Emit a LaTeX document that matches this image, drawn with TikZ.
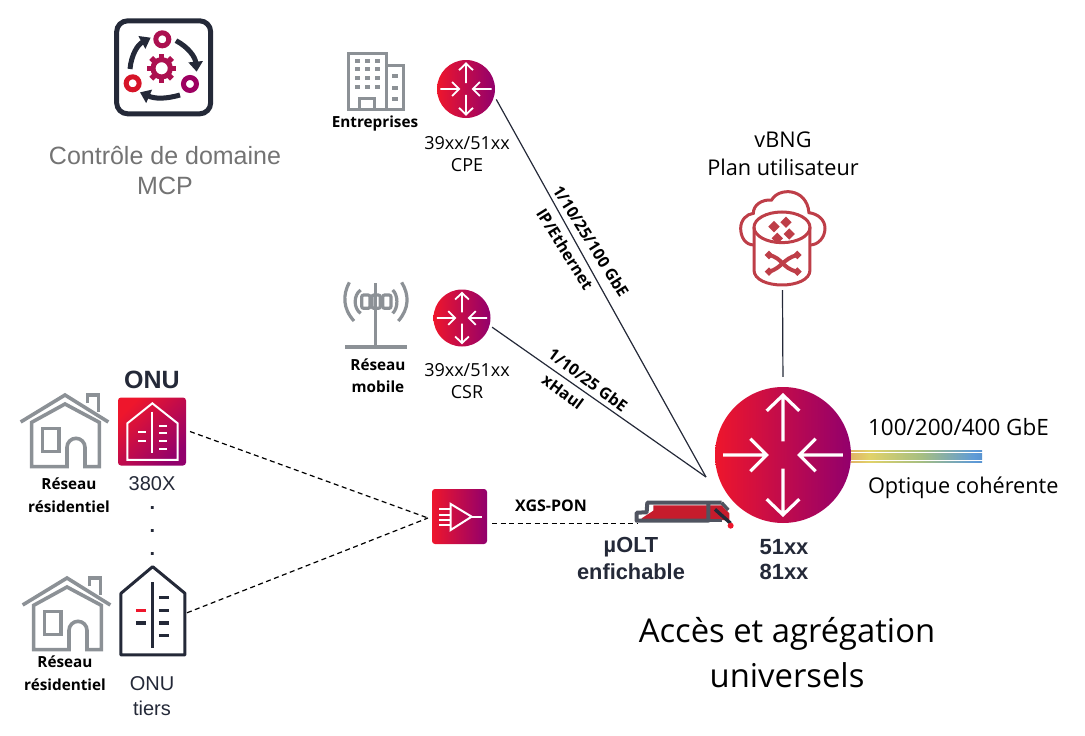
\documentclass[tikz,border=0pt]{standalone}
\usepackage{fontspec}
\setmainfont{Open Sans}
\newfontfamily\arialfont{Liberation Sans}
\usetikzlibrary{positioning,arrows.meta}
\definecolor{accentred}{RGB}{238,22,44}
\definecolor{accentpurple}{RGB}{146,0,108}
\definecolor{darkslate}{RGB}{36,41,56}
\definecolor{icongray}{RGB}{140,145,150}
\definecolor{cloudred}{RGB}{190,62,72}
\definecolor{oltred}{RGB}{198,28,44}
\definecolor{gearred}{RGB}{172,16,80}
\definecolor{fibreA}{RGB}{175,110,105}
\definecolor{fibreB}{RGB}{225,150,100}
\definecolor{fibreC}{RGB}{225,210,105}
\definecolor{fibreD}{RGB}{165,190,130}
\definecolor{fibreE}{RGB}{95,155,215}
\definecolor{fibreF}{RGB}{40,90,160}
\pgfdeclarehorizontalshading{fiberspec}{100bp}{color(0bp)=(fibreA); color(18bp)=(fibreB); color(32bp)=(fibreC); color(52bp)=(fibreD); color(72bp)=(fibreE); color(100bp)=(fibreF)}

% arrows of a router: centre, radius, line width
\newcommand{\routerarrows}[3]{%
  \begin{scope}[shift={(#1)},x=#2pt,y=#2pt,white,line width=#3pt]
    \foreach \ang in {90,270} \draw[rotate=\ang] (.2,0) -- (.88,0) (.65,.24) -- (.88,0) -- (.65,-.24);
    \foreach \ang in {0,180} \draw[rotate=\ang] (.88,0) -- (.24,0) (.48,.24) -- (.24,0) -- (.48,-.24);
  \end{scope}}
% residential house
\newcommand{\homeicon}[1]{%
  \begin{scope}[zoomed={#1},icongray,line width=3.6pt]
    \draw (32,186) -- (165,105) -- (295,186);
    \draw (65,320) -- (65,187) -- (165,132) -- (268,187) -- (268,320) -- (225,320) -- (225,262)
          arc[start angle=0,end angle=180,x radius=27,y radius=-27] -- (171,320) -- cycle;
    \draw (97,205) rectangle (147,275);
    \draw (232,130) -- (232,105) -- (265,105) -- (265,155);
  \end{scope}}

\begin{document}
\begin{tikzpicture}[x=1pt,y=-1pt,
    zoomed/.style={shift={(#1)},x=0.3333pt,y=-0.3333pt},
    router/.style={circle, left color=accentred, right color=accentpurple, inner sep=0pt},
    redsquare/.style={rectangle, rounded corners=3pt, left color=accentred, right color=accentpurple, inner sep=0pt},
    iconbox/.style={rectangle, inner sep=0pt},
    link/.style={line width=1.2pt, darkslate},
    ponlink/.style={line width=1.2pt, black, dash pattern=on 5pt off 3.5pt},
    smalllabel/.style={align=center, font=\fontsize{15.3}{22.5}\selectfont\bfseries},
    linklabel/.style={font=\fontsize{16}{18}\selectfont\bfseries},
    partlabel/.style={align=center, font=\fontsize{18}{22}\selectfont},
    arialbig/.style={align=center, text=darkslate, font=\arialfont\fontsize{20}{25}\selectfont},
    arialbold/.style={align=center, text=darkslate, font=\arialfont\fontsize{21.8}{27}\selectfont\bfseries},
    iconline/.style={white, line width=2pt}
]
\useasboundingbox (0,0) rectangle (1085,736);

% routers
\node[router, minimum size=136pt] (hub) at (783,455) {};
\node[router, minimum size=58pt, outer sep=3pt] (cpe) at (466,89) {};
\node[router, minimum size=57pt, outer sep=3pt] (csr) at (462,318) {};
\routerarrows{hub}{68}{3.2}
\routerarrows{cpe}{29}{1.8}
\routerarrows{csr}{28.5}{1.8}

% domain control
\begin{scope}[zoomed={90,0}]
  \node[iconbox, draw=darkslate, line width=5pt, rounded corners=11pt, minimum width=94pt, minimum height=93pt] (mcp) at (221,202) {};
  \draw[gearred, line width=5pt] (217,118) circle[radius=19.5];
  \draw[accentpurple!90!red, line width=5pt] (300,252) circle[radius=19.5];
  \draw[accentred!90!black, line width=5pt] (128,250) circle[radius=19.5];
  \draw[gearred, line width=5pt] (215,205) circle[radius=26];
  \foreach \ang in {0,45,...,315} \draw[gearred, line width=5.5pt] (\ang:26) ++(215,205) -- ++(\ang:18);
  \draw[darkslate, line width=5pt, -{Triangle[width=14pt,length=10pt]}] (120,207) to[bend left=28] (182,113);
  \draw[darkslate, line width=5pt, -{Triangle[width=14pt,length=10pt]}] (258,122) to[bend left=28] (320,215);
  \draw[darkslate, line width=5pt, -{Triangle[width=14pt,length=10pt]}] (270,285) to[bend left=20] (150,277);
\end{scope}
\node[align=center, text=black!55, font=\arialfont\fontsize{25}{30}\selectfont] (mcplabel) at (165,170.5) {Contrôle de domaine\\MCP};

% enterprise site
\begin{scope}[zoomed={320,40},icongray,line width=3pt]
  \draw (85,208) -- (85,40) -- (200,40) -- (200,208) -- cycle;
  \draw (200,78) -- (250,78) -- (250,208) -- (200,208);
  \draw (120,208) -- (120,175) -- (165,175) -- (165,208);
  \foreach \yy in {63,88,115,142} \foreach \xx in {113,143,173}
    \fill (\xx-8,\yy-6) rectangle (\xx+8,\yy+6);
  \foreach \yy in {108,143,178} \fill (217,\yy-6) rectangle (233,\yy+6);
\end{scope}
\node[smalllabel] (entlabel) at (375,124) {Entreprises};
\node[partlabel] (cpelabel) at (467,154) {39xx/51xx\\CPE};

% mobile site
\begin{scope}[zoomed={330,275},icongray,line width=3.2pt]
  \draw[line width=3.4pt] (137,25) -- (137,215);
  \draw[line width=3.8pt] (45,217) -- (232,217);
  \foreach \xx in {95,126,158} \draw[rounded corners=2pt] (\xx,60) rectangle (\xx+25,100);
  \draw (92,45) .. controls (70,60) and (70,100) .. (92,115);
  \draw (58,22) .. controls (38,60) and (38,100) .. (72,138);
  \draw (188,45) .. controls (205,60) and (205,100) .. (188,115);
  \draw (215,22) .. controls (238,60) and (238,100) .. (205,138);
\end{scope}
\node[smalllabel] (moblabel) at (378,375.5) {Réseau\\mobile};
\node[partlabel] (csrlabel) at (467,381) {39xx/51xx\\CSR};

% vBNG
\node[iconbox, minimum width=60pt, minimum height=100pt] (vbng) at (782.5,240) {};
\begin{scope}[zoomed={700,190},cloudred,line width=3pt]
  \draw (162,165) .. controls (135,165) and (122,140) .. (122,115) .. controls (122,90) and (140,72) .. (160,70)
        .. controls (160,45) and (185,28) .. (215,30) .. controls (235,-8) and (320,-8) .. (327,68)
        .. controls (355,72) and (375,90) .. (375,115) .. controls (375,142) and (355,165) .. (330,165);
  \draw (246,112) ellipse[x radius=84,y radius=46];
  \draw (162,112) -- (162,240) .. controls (162,300) and (330,300) .. (330,240) -- (330,112);
  \draw[line width=4pt] (207,195) .. controls (250,205) and (245,235) .. (292,245);
  \draw[line width=4pt] (292,195) .. controls (250,205) and (245,235) .. (207,245);
  \foreach \xx/\yy in {207/195,292/195,207/245,292/245} \fill (\xx-13,\yy) -- (\xx,\yy-13) -- (\xx+13,\yy) -- (\xx,\yy+13) -- cycle;
  \foreach \xx/\yy in {222/110,258/97,232/145,268/132} \fill (\xx-17,\yy) -- (\xx,\yy-17) -- (\xx+17,\yy) -- (\xx,\yy+17) -- cycle;
\end{scope}
\node[align=center, font=\fontsize{21.7}{28}\selectfont] (vbnglabel) at (783,154) {vBNG\\Plan utilisateur};

% ONU column
\node[redsquare, minimum size=68pt, outer sep=4pt, shading angle=45] (onua) at (152,431.5) {};
\begin{scope}[zoomed={10,360},iconline]
  \draw (352,190) -- (427,130) -- (503,190) -- (503,300) -- (352,300) -- cycle;
  \draw (427,155) -- (427,278);
  \draw (385,217) -- (408,217) (385,243) -- (408,243);
  \foreach \yy in {197,220,243,268} \draw (447,\yy) -- (472,\yy);
\end{scope}
\node[iconbox, minimum width=66pt, minimum height=90pt, outer sep=1pt] (onub) at (153,611) {};
\begin{scope}[zoomed={10,550},darkslate,line width=3pt]
  \draw[line join=round] (333,130) -- (428,50) -- (525,130) -- (525,315) -- (333,315) -- cycle;
  \draw (428,97) -- (428,293);
  \foreach \yy in {143,181,219,257} \draw[line width=3.5pt] (447,\yy) -- (478,\yy);
  \draw[line width=3.5pt] (378,219) -- (409,219);
  \draw[line width=3.5pt, accentred] (378,181) -- (409,181);
\end{scope}
\homeicon{10,360}
\homeicon{12,543}
\node[arialbold, font=\arialfont\fontsize{25}{28}\selectfont\bfseries] (onulabel) at (152,380) {ONU};
\node[arialbig] (onualabel) at (152,484) {380X};
\node[arialbold, font=\arialfont\fontsize{20}{23}\selectfont\bfseries] (dots) at (152.5,531) {.\\.\\.};
\node[arialbig] (onublabel) at (152,696.5) {ONU\\tiers};
\node[smalllabel] (homea) at (69,495) {Réseau\\résidentiel};
\node[smalllabel] (homeb) at (65,673) {Réseau\\résidentiel};

% splitter
\node[redsquare, minimum size=55pt, outer sep=5pt] (split) at (459.5,516.5) {};
\begin{scope}[zoomed={420,480},iconline]
  \draw (92,72) -- (92,150) -- (155,110) -- cycle;
  \draw (155,110) -- (187,110);
  \foreach \yy in {88,104,120,135} \draw (57,\yy) -- (92,\yy);
\end{scope}
\coordinate (splitin) at (428,518);

% pluggable OLT
\node[iconbox, minimum width=96pt, minimum height=20pt] (olt) at (685,523.5) {};
\begin{scope}[zoomed={420,480}]
  \fill[oltred] (665,115) -- (700,92) -- (700,76) -- (905,76) -- (928,100) -- (928,120) -- (865,120) -- (665,120) -- cycle;
  \draw[darkslate!80!white, line width=4pt, line join=round] (905,68) -- (682,68) -- (680,97) -- (650,98) -- (650,122) -- (865,122) -- (865,68);
  \draw[darkslate!80!white, line width=3.4pt] (905,68) -- (925,90);
  \draw[darkslate!80!white, line width=3.4pt] (865,122) -- (905,122);
  \draw[darkslate, line width=3.4pt] (885,88) -- (932,130);
  \fill[accentred] (932,137) circle[radius=9];
\end{scope}

% fibre output
\foreach \yy in {450.2,453,455.8,458.6,461.4}
  \shade[shading=fiberspec] (851,\yy) rectangle (982,\yy+1.3);

% connectors
\coordinate (hubin) at (706,477);
\draw[link] (cpe.-19) -- (hubin);
\draw[link] (csr.-17) -- (hubin);
\draw[link, shorten >=10pt] (vbng.south) -- (hub.north);
\draw[ponlink] (onua.east) -- (splitin);
\draw[ponlink] (onub.-3) -- (splitin);
\draw[ponlink] (split.east |- olt.west) -- (olt.west);

% link labels
\node[linklabel, rotate=-58] (cpespeed) at (591,241) {1/10/25/100 GbE};
\node[linklabel, rotate=-58] (cpeproto) at (565,249) {IP/Ethernet};
\node[linklabel, rotate=-36.5] (csrspeed) at (588,380) {1/10/25 GbE};
\node[linklabel, rotate=-36.5] (csrproto) at (563,392) {xHaul};
\node[linklabel] (ponlabel) at (551,506) {XGS-PON};
\node[arialbold] (oltlabel) at (631,558) {µOLT\\enfichable};
\node[arialbold, font=\arialfont\fontsize{22}{25}\selectfont\bfseries] (hublabel) at (784,560) {51xx\\81xx};
\node[anchor=west, font=\fontsize{22.5}{24}\selectfont] (speedlabel) at (864.5,427) {100/200/400 GbE};
\node[anchor=west, font=\fontsize{21.7}{24}\selectfont] (opticlabel) at (864.5,488) {Optique cohérente};
\node[align=center, font=\fontsize{32.8}{45}\selectfont] (titlelabel) at (787,653) {Accès et agrégation\\universels};
\end{tikzpicture}
\end{document}
